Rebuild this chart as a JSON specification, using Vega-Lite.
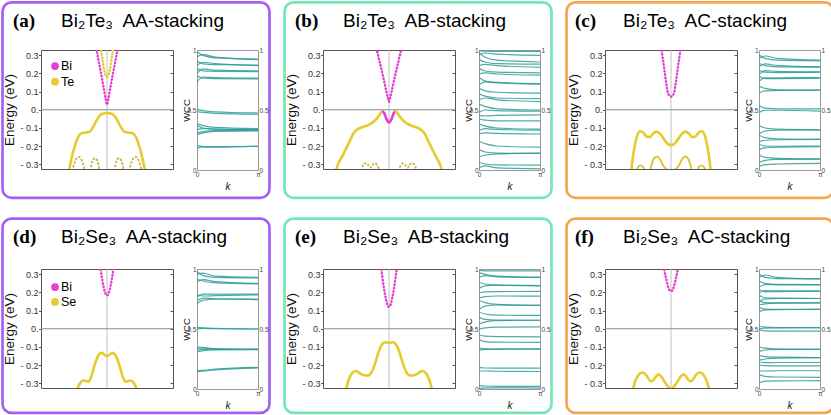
{
"$schema": "https://vega.github.io/schema/vega-lite/v6.json",
"padding": 0,
"background": "white",
"config": {"font": "Liberation Sans", "axis": {"labelFont": "Liberation Sans", "titleFont": "Liberation Sans", "titleFontWeight": "normal", "domain": false, "grid": false, "labelOverlap": false, "tickColor": "#555"}},
"datasets": {
"panels": [
{"p":"a","lab":"(a)","name":"Bi₂Te₃\u00a0 AA-stacking","stack":"AA"},
{"p":"b","lab":"(b)","name":"Bi₂Te₃\u00a0 AB-stacking","stack":"AB"},
{"p":"c","lab":"(c)","name":"Bi₂Te₃\u00a0 AC-stacking","stack":"AC"},
{"p":"d","lab":"(d)","name":"Bi₂Se₃\u00a0 AA-stacking","stack":"AA"},
{"p":"e","lab":"(e)","name":"Bi₂Se₃\u00a0 AB-stacking","stack":"AB"},
{"p":"f","lab":"(f)","name":"Bi₂Se₃\u00a0 AC-stacking","stack":"AC"}],
"leg": [{"p":"a","el":"Bi"},{"p":"a","el":"Te"},{"p":"d","el":"Bi"},{"p":"d","el":"Se"}],
"kgrid": [{"key":"w0","k":0},{"key":"w1","k":0.1},{"key":"w2","k":0.3},{"key":"w3","k":1}],
"band": [
{"p":"a","b":1,"el":"Bi","t":"c","u":0.83,"E":0.35},{"p":"a","b":1,"el":"Bi","t":"c","u":0.87,"E":0.274},{"p":"a","b":1,"el":"Bi","t":"c","u":0.91,"E":0.198},{"p":"a","b":1,"el":"Bi","t":"c","u":0.95,"E":0.12},{"p":"a","b":1,"el":"Bi","t":"c","u":0.98,"E":0.058},{"p":"a","b":1,"el":"Bi","t":"c","u":1.0,"E":0.028},{"p":"a","b":1,"el":"Bi","t":"c","u":1.02,"E":0.058},{"p":"a","b":1,"el":"Bi","t":"c","u":1.05,"E":0.12},{"p":"a","b":1,"el":"Bi","t":"c","u":1.09,"E":0.198},{"p":"a","b":1,"el":"Bi","t":"c","u":1.13,"E":0.274},{"p":"a","b":1,"el":"Bi","t":"c","u":1.17,"E":0.35},
{"p":"a","b":2,"el":"Te","t":"c","u":0.895,"E":0.36},{"p":"a","b":2,"el":"Te","t":"c","u":0.93,"E":0.28},{"p":"a","b":2,"el":"Te","t":"c","u":0.96,"E":0.215},{"p":"a","b":2,"el":"Te","t":"c","u":0.98,"E":0.188},{"p":"a","b":2,"el":"Te","t":"c","u":1.0,"E":0.18},{"p":"a","b":2,"el":"Te","t":"c","u":1.02,"E":0.188},{"p":"a","b":2,"el":"Te","t":"c","u":1.04,"E":0.215},{"p":"a","b":2,"el":"Te","t":"c","u":1.07,"E":0.28},{"p":"a","b":2,"el":"Te","t":"c","u":1.105,"E":0.36},
{"p":"a","b":3,"el":"Te","t":"v","u":0.40,"E":-0.40},{"p":"a","b":3,"el":"Te","t":"v","u":0.43,"E":-0.325},{"p":"a","b":3,"el":"Te","t":"v","u":0.47,"E":-0.255},{"p":"a","b":3,"el":"Te","t":"v","u":0.52,"E":-0.19},{"p":"a","b":3,"el":"Te","t":"v","u":0.57,"E":-0.145},{"p":"a","b":3,"el":"Te","t":"v","u":0.62,"E":-0.128},{"p":"a","b":3,"el":"Te","t":"v","u":0.68,"E":-0.125},{"p":"a","b":3,"el":"Te","t":"v","u":0.74,"E":-0.12},{"p":"a","b":3,"el":"Te","t":"v","u":0.79,"E":-0.095},{"p":"a","b":3,"el":"Te","t":"v","u":0.84,"E":-0.06},{"p":"a","b":3,"el":"Te","t":"v","u":0.89,"E":-0.032},{"p":"a","b":3,"el":"Te","t":"v","u":0.94,"E":-0.02},{"p":"a","b":3,"el":"Te","t":"v","u":1.0,"E":-0.018},{"p":"a","b":3,"el":"Te","t":"v","u":1.06,"E":-0.02},{"p":"a","b":3,"el":"Te","t":"v","u":1.11,"E":-0.032},{"p":"a","b":3,"el":"Te","t":"v","u":1.16,"E":-0.06},{"p":"a","b":3,"el":"Te","t":"v","u":1.21,"E":-0.095},{"p":"a","b":3,"el":"Te","t":"v","u":1.26,"E":-0.12},{"p":"a","b":3,"el":"Te","t":"v","u":1.32,"E":-0.125},{"p":"a","b":3,"el":"Te","t":"v","u":1.38,"E":-0.128},{"p":"a","b":3,"el":"Te","t":"v","u":1.43,"E":-0.145},{"p":"a","b":3,"el":"Te","t":"v","u":1.48,"E":-0.19},{"p":"a","b":3,"el":"Te","t":"v","u":1.53,"E":-0.255},{"p":"a","b":3,"el":"Te","t":"v","u":1.57,"E":-0.325},{"p":"a","b":3,"el":"Te","t":"v","u":1.60,"E":-0.40},
{"p":"a","b":4,"el":"Te","t":"l","u":0.46,"E":-0.36},{"p":"a","b":4,"el":"Te","t":"l","u":0.50,"E":-0.30},{"p":"a","b":4,"el":"Te","t":"l","u":0.54,"E":-0.265},{"p":"a","b":4,"el":"Te","t":"l","u":0.57,"E":-0.258},{"p":"a","b":4,"el":"Te","t":"l","u":0.60,"E":-0.265},{"p":"a","b":4,"el":"Te","t":"l","u":0.64,"E":-0.30},{"p":"a","b":4,"el":"Te","t":"l","u":0.68,"E":-0.36},
{"p":"a","b":5,"el":"Te","t":"l","u":0.74,"E":-0.36},{"p":"a","b":5,"el":"Te","t":"l","u":0.765,"E":-0.30},{"p":"a","b":5,"el":"Te","t":"l","u":0.795,"E":-0.272},{"p":"a","b":5,"el":"Te","t":"l","u":0.82,"E":-0.266},{"p":"a","b":5,"el":"Te","t":"l","u":0.845,"E":-0.272},{"p":"a","b":5,"el":"Te","t":"l","u":0.87,"E":-0.30},{"p":"a","b":5,"el":"Te","t":"l","u":0.89,"E":-0.36},
{"p":"a","b":6,"el":"Te","t":"l","u":1.11,"E":-0.36},{"p":"a","b":6,"el":"Te","t":"l","u":1.13,"E":-0.30},{"p":"a","b":6,"el":"Te","t":"l","u":1.155,"E":-0.272},{"p":"a","b":6,"el":"Te","t":"l","u":1.18,"E":-0.266},{"p":"a","b":6,"el":"Te","t":"l","u":1.205,"E":-0.272},{"p":"a","b":6,"el":"Te","t":"l","u":1.235,"E":-0.30},{"p":"a","b":6,"el":"Te","t":"l","u":1.26,"E":-0.36},
{"p":"a","b":7,"el":"Te","t":"l","u":1.32,"E":-0.36},{"p":"a","b":7,"el":"Te","t":"l","u":1.36,"E":-0.30},{"p":"a","b":7,"el":"Te","t":"l","u":1.40,"E":-0.265},{"p":"a","b":7,"el":"Te","t":"l","u":1.43,"E":-0.258},{"p":"a","b":7,"el":"Te","t":"l","u":1.46,"E":-0.265},{"p":"a","b":7,"el":"Te","t":"l","u":1.50,"E":-0.30},{"p":"a","b":7,"el":"Te","t":"l","u":1.54,"E":-0.36},

{"p":"b","b":1,"el":"Bi","t":"c","u":0.80,"E":0.353},{"p":"b","b":1,"el":"Bi","t":"c","u":0.84,"E":0.291},{"p":"b","b":1,"el":"Bi","t":"c","u":0.88,"E":0.23},{"p":"b","b":1,"el":"Bi","t":"c","u":0.92,"E":0.168},{"p":"b","b":1,"el":"Bi","t":"c","u":0.96,"E":0.10},{"p":"b","b":1,"el":"Bi","t":"c","u":0.985,"E":0.062},{"p":"b","b":1,"el":"Bi","t":"c","u":1.0,"E":0.045},{"p":"b","b":1,"el":"Bi","t":"c","u":1.015,"E":0.062},{"p":"b","b":1,"el":"Bi","t":"c","u":1.04,"E":0.10},{"p":"b","b":1,"el":"Bi","t":"c","u":1.08,"E":0.168},{"p":"b","b":1,"el":"Bi","t":"c","u":1.12,"E":0.23},{"p":"b","b":1,"el":"Bi","t":"c","u":1.16,"E":0.291},{"p":"b","b":1,"el":"Bi","t":"c","u":1.20,"E":0.353},
{"p":"b","b":2,"el":"Te","t":"v","u":0.18,"E":-0.38},{"p":"b","b":2,"el":"Te","t":"v","u":0.2,"E":-0.33},{"p":"b","b":2,"el":"Te","t":"v","u":0.3,"E":-0.25},{"p":"b","b":2,"el":"Te","t":"v","u":0.4,"E":-0.176},{"p":"b","b":2,"el":"Te","t":"v","u":0.46,"E":-0.13},{"p":"b","b":2,"el":"Te","t":"v","u":0.53,"E":-0.106},{"p":"b","b":2,"el":"Te","t":"v","u":0.6,"E":-0.095},{"p":"b","b":2,"el":"Te","t":"v","u":0.68,"E":-0.085},{"p":"b","b":2,"el":"Te","t":"v","u":0.75,"E":-0.07},{"p":"b","b":2,"el":"Te","t":"v","u":0.81,"E":-0.05},{"p":"b","b":2,"el":"Te","t":"v","u":0.86,"E":-0.025},{"p":"b","b":2,"el":"Te","t":"v","u":0.9,"E":-0.006},
{"p":"b","b":3,"el":"Bi","t":"v","u":0.9,"E":-0.006},{"p":"b","b":3,"el":"Bi","t":"v","u":0.93,"E":-0.02},{"p":"b","b":3,"el":"Bi","t":"v","u":0.96,"E":-0.05},{"p":"b","b":3,"el":"Bi","t":"v","u":1.0,"E":-0.069},{"p":"b","b":3,"el":"Bi","t":"v","u":1.04,"E":-0.05},{"p":"b","b":3,"el":"Bi","t":"v","u":1.07,"E":-0.02},{"p":"b","b":3,"el":"Bi","t":"v","u":1.1,"E":-0.006},
{"p":"b","b":4,"el":"Te","t":"v","u":1.1,"E":-0.006},{"p":"b","b":4,"el":"Te","t":"v","u":1.14,"E":-0.025},{"p":"b","b":4,"el":"Te","t":"v","u":1.19,"E":-0.05},{"p":"b","b":4,"el":"Te","t":"v","u":1.25,"E":-0.07},{"p":"b","b":4,"el":"Te","t":"v","u":1.32,"E":-0.085},{"p":"b","b":4,"el":"Te","t":"v","u":1.4,"E":-0.095},{"p":"b","b":4,"el":"Te","t":"v","u":1.47,"E":-0.106},{"p":"b","b":4,"el":"Te","t":"v","u":1.54,"E":-0.13},{"p":"b","b":4,"el":"Te","t":"v","u":1.6,"E":-0.176},{"p":"b","b":4,"el":"Te","t":"v","u":1.7,"E":-0.25},{"p":"b","b":4,"el":"Te","t":"v","u":1.8,"E":-0.33},{"p":"b","b":4,"el":"Te","t":"v","u":1.82,"E":-0.38},
{"p":"b","b":5,"el":"Te","t":"l","u":0.57,"E":-0.36},{"p":"b","b":5,"el":"Te","t":"l","u":0.60,"E":-0.31},{"p":"b","b":5,"el":"Te","t":"l","u":0.63,"E":-0.295},{"p":"b","b":5,"el":"Te","t":"l","u":0.66,"E":-0.293},{"p":"b","b":5,"el":"Te","t":"l","u":0.69,"E":-0.305},{"p":"b","b":5,"el":"Te","t":"l","u":0.72,"E":-0.318},{"p":"b","b":5,"el":"Te","t":"l","u":0.75,"E":-0.303},{"p":"b","b":5,"el":"Te","t":"l","u":0.78,"E":-0.293},{"p":"b","b":5,"el":"Te","t":"l","u":0.81,"E":-0.298},{"p":"b","b":5,"el":"Te","t":"l","u":0.84,"E":-0.32},{"p":"b","b":5,"el":"Te","t":"l","u":0.87,"E":-0.36},
{"p":"b","b":6,"el":"Te","t":"l","u":1.13,"E":-0.36},{"p":"b","b":6,"el":"Te","t":"l","u":1.16,"E":-0.32},{"p":"b","b":6,"el":"Te","t":"l","u":1.19,"E":-0.298},{"p":"b","b":6,"el":"Te","t":"l","u":1.22,"E":-0.293},{"p":"b","b":6,"el":"Te","t":"l","u":1.25,"E":-0.303},{"p":"b","b":6,"el":"Te","t":"l","u":1.28,"E":-0.318},{"p":"b","b":6,"el":"Te","t":"l","u":1.31,"E":-0.305},{"p":"b","b":6,"el":"Te","t":"l","u":1.34,"E":-0.293},{"p":"b","b":6,"el":"Te","t":"l","u":1.37,"E":-0.295},{"p":"b","b":6,"el":"Te","t":"l","u":1.40,"E":-0.31},{"p":"b","b":6,"el":"Te","t":"l","u":1.43,"E":-0.36},

{"p":"c","b":1,"el":"Bi","t":"c","u":0.85,"E":0.36},{"p":"c","b":1,"el":"Bi","t":"c","u":0.86,"E":0.325},{"p":"c","b":1,"el":"Bi","t":"c","u":0.896,"E":0.23},{"p":"c","b":1,"el":"Bi","t":"c","u":0.927,"E":0.148},{"p":"c","b":1,"el":"Bi","t":"c","u":0.952,"E":0.095},{"p":"c","b":1,"el":"Bi","t":"c","u":0.975,"E":0.077},{"p":"c","b":1,"el":"Bi","t":"c","u":1.0,"E":0.072},{"p":"c","b":1,"el":"Bi","t":"c","u":1.025,"E":0.077},{"p":"c","b":1,"el":"Bi","t":"c","u":1.048,"E":0.095},{"p":"c","b":1,"el":"Bi","t":"c","u":1.073,"E":0.148},{"p":"c","b":1,"el":"Bi","t":"c","u":1.104,"E":0.23},{"p":"c","b":1,"el":"Bi","t":"c","u":1.14,"E":0.325},{"p":"c","b":1,"el":"Bi","t":"c","u":1.15,"E":0.36},
{"p":"c","b":2,"el":"Te","t":"v","u":0.385,"E":-0.40},{"p":"c","b":2,"el":"Te","t":"v","u":0.40,"E":-0.33},{"p":"c","b":2,"el":"Te","t":"v","u":0.44,"E":-0.22},{"p":"c","b":2,"el":"Te","t":"v","u":0.48,"E":-0.15},{"p":"c","b":2,"el":"Te","t":"v","u":0.53,"E":-0.118},{"p":"c","b":2,"el":"Te","t":"v","u":0.58,"E":-0.125},{"p":"c","b":2,"el":"Te","t":"v","u":0.63,"E":-0.147},{"p":"c","b":2,"el":"Te","t":"v","u":0.68,"E":-0.15},{"p":"c","b":2,"el":"Te","t":"v","u":0.73,"E":-0.13},{"p":"c","b":2,"el":"Te","t":"v","u":0.785,"E":-0.12},{"p":"c","b":2,"el":"Te","t":"v","u":0.84,"E":-0.135},{"p":"c","b":2,"el":"Te","t":"v","u":0.9,"E":-0.165},{"p":"c","b":2,"el":"Te","t":"v","u":0.95,"E":-0.187},{"p":"c","b":2,"el":"Te","t":"v","u":1.0,"E":-0.194},{"p":"c","b":2,"el":"Te","t":"v","u":1.05,"E":-0.187},{"p":"c","b":2,"el":"Te","t":"v","u":1.1,"E":-0.165},{"p":"c","b":2,"el":"Te","t":"v","u":1.16,"E":-0.135},{"p":"c","b":2,"el":"Te","t":"v","u":1.215,"E":-0.12},{"p":"c","b":2,"el":"Te","t":"v","u":1.27,"E":-0.13},{"p":"c","b":2,"el":"Te","t":"v","u":1.32,"E":-0.15},{"p":"c","b":2,"el":"Te","t":"v","u":1.37,"E":-0.147},{"p":"c","b":2,"el":"Te","t":"v","u":1.42,"E":-0.125},{"p":"c","b":2,"el":"Te","t":"v","u":1.47,"E":-0.118},{"p":"c","b":2,"el":"Te","t":"v","u":1.52,"E":-0.15},{"p":"c","b":2,"el":"Te","t":"v","u":1.56,"E":-0.22},{"p":"c","b":2,"el":"Te","t":"v","u":1.60,"E":-0.33},{"p":"c","b":2,"el":"Te","t":"v","u":1.615,"E":-0.40},
{"p":"c","b":3,"el":"Te","t":"m","u":0.66,"E":-0.38},{"p":"c","b":3,"el":"Te","t":"m","u":0.70,"E":-0.31},{"p":"c","b":3,"el":"Te","t":"m","u":0.74,"E":-0.268},{"p":"c","b":3,"el":"Te","t":"m","u":0.785,"E":-0.256},{"p":"c","b":3,"el":"Te","t":"m","u":0.83,"E":-0.27},{"p":"c","b":3,"el":"Te","t":"m","u":0.88,"E":-0.305},{"p":"c","b":3,"el":"Te","t":"m","u":0.94,"E":-0.33},{"p":"c","b":3,"el":"Te","t":"m","u":1.0,"E":-0.34},{"p":"c","b":3,"el":"Te","t":"m","u":1.06,"E":-0.33},{"p":"c","b":3,"el":"Te","t":"m","u":1.12,"E":-0.305},{"p":"c","b":3,"el":"Te","t":"m","u":1.17,"E":-0.27},{"p":"c","b":3,"el":"Te","t":"m","u":1.215,"E":-0.256},{"p":"c","b":3,"el":"Te","t":"m","u":1.26,"E":-0.268},{"p":"c","b":3,"el":"Te","t":"m","u":1.30,"E":-0.31},{"p":"c","b":3,"el":"Te","t":"m","u":1.34,"E":-0.38},
{"p":"c","b":4,"el":"Te","t":"m","u":0.46,"E":-0.36},{"p":"c","b":4,"el":"Te","t":"m","u":0.50,"E":-0.315},{"p":"c","b":4,"el":"Te","t":"m","u":0.54,"E":-0.305},{"p":"c","b":4,"el":"Te","t":"m","u":0.58,"E":-0.315},{"p":"c","b":4,"el":"Te","t":"m","u":0.62,"E":-0.36},
{"p":"c","b":5,"el":"Te","t":"m","u":1.38,"E":-0.36},{"p":"c","b":5,"el":"Te","t":"m","u":1.42,"E":-0.315},{"p":"c","b":5,"el":"Te","t":"m","u":1.46,"E":-0.305},{"p":"c","b":5,"el":"Te","t":"m","u":1.50,"E":-0.315},{"p":"c","b":5,"el":"Te","t":"m","u":1.54,"E":-0.36},

{"p":"d","b":1,"el":"Bi","t":"c","u":0.895,"E":0.36},{"p":"d","b":1,"el":"Bi","t":"c","u":0.905,"E":0.325},{"p":"d","b":1,"el":"Bi","t":"c","u":0.93,"E":0.265},{"p":"d","b":1,"el":"Bi","t":"c","u":0.95,"E":0.228},{"p":"d","b":1,"el":"Bi","t":"c","u":0.975,"E":0.195},{"p":"d","b":1,"el":"Bi","t":"c","u":1.0,"E":0.183},{"p":"d","b":1,"el":"Bi","t":"c","u":1.025,"E":0.195},{"p":"d","b":1,"el":"Bi","t":"c","u":1.05,"E":0.228},{"p":"d","b":1,"el":"Bi","t":"c","u":1.07,"E":0.265},{"p":"d","b":1,"el":"Bi","t":"c","u":1.095,"E":0.325},{"p":"d","b":1,"el":"Bi","t":"c","u":1.105,"E":0.36},
{"p":"d","b":2,"el":"Se","t":"v","u":0.54,"E":-0.38},{"p":"d","b":2,"el":"Se","t":"v","u":0.56,"E":-0.325},{"p":"d","b":2,"el":"Se","t":"v","u":0.60,"E":-0.295},{"p":"d","b":2,"el":"Se","t":"v","u":0.64,"E":-0.284},{"p":"d","b":2,"el":"Se","t":"v","u":0.68,"E":-0.287},{"p":"d","b":2,"el":"Se","t":"v","u":0.72,"E":-0.29},{"p":"d","b":2,"el":"Se","t":"v","u":0.76,"E":-0.265},{"p":"d","b":2,"el":"Se","t":"v","u":0.80,"E":-0.215},{"p":"d","b":2,"el":"Se","t":"v","u":0.84,"E":-0.17},{"p":"d","b":2,"el":"Se","t":"v","u":0.88,"E":-0.14},{"p":"d","b":2,"el":"Se","t":"v","u":0.92,"E":-0.132},{"p":"d","b":2,"el":"Se","t":"v","u":0.96,"E":-0.142},{"p":"d","b":2,"el":"Se","t":"v","u":1.0,"E":-0.149},{"p":"d","b":2,"el":"Se","t":"v","u":1.04,"E":-0.142},{"p":"d","b":2,"el":"Se","t":"v","u":1.08,"E":-0.132},{"p":"d","b":2,"el":"Se","t":"v","u":1.12,"E":-0.14},{"p":"d","b":2,"el":"Se","t":"v","u":1.16,"E":-0.17},{"p":"d","b":2,"el":"Se","t":"v","u":1.20,"E":-0.215},{"p":"d","b":2,"el":"Se","t":"v","u":1.24,"E":-0.265},{"p":"d","b":2,"el":"Se","t":"v","u":1.28,"E":-0.29},{"p":"d","b":2,"el":"Se","t":"v","u":1.32,"E":-0.287},{"p":"d","b":2,"el":"Se","t":"v","u":1.36,"E":-0.284},{"p":"d","b":2,"el":"Se","t":"v","u":1.40,"E":-0.295},{"p":"d","b":2,"el":"Se","t":"v","u":1.44,"E":-0.325},{"p":"d","b":2,"el":"Se","t":"v","u":1.46,"E":-0.38},

{"p":"e","b":1,"el":"Bi","t":"c","u":0.87,"E":0.36},{"p":"e","b":1,"el":"Bi","t":"c","u":0.884,"E":0.325},{"p":"e","b":1,"el":"Bi","t":"c","u":0.92,"E":0.23},{"p":"e","b":1,"el":"Bi","t":"c","u":0.95,"E":0.17},{"p":"e","b":1,"el":"Bi","t":"c","u":0.975,"E":0.133},{"p":"e","b":1,"el":"Bi","t":"c","u":1.0,"E":0.12},{"p":"e","b":1,"el":"Bi","t":"c","u":1.025,"E":0.133},{"p":"e","b":1,"el":"Bi","t":"c","u":1.05,"E":0.17},{"p":"e","b":1,"el":"Bi","t":"c","u":1.08,"E":0.23},{"p":"e","b":1,"el":"Bi","t":"c","u":1.116,"E":0.325},{"p":"e","b":1,"el":"Bi","t":"c","u":1.13,"E":0.36},
{"p":"e","b":2,"el":"Se","t":"v","u":0.33,"E":-0.38},{"p":"e","b":2,"el":"Se","t":"v","u":0.355,"E":-0.325},{"p":"e","b":2,"el":"Se","t":"v","u":0.40,"E":-0.27},{"p":"e","b":2,"el":"Se","t":"v","u":0.45,"E":-0.24},{"p":"e","b":2,"el":"Se","t":"v","u":0.50,"E":-0.232},{"p":"e","b":2,"el":"Se","t":"v","u":0.56,"E":-0.245},{"p":"e","b":2,"el":"Se","t":"v","u":0.62,"E":-0.255},{"p":"e","b":2,"el":"Se","t":"v","u":0.68,"E":-0.256},{"p":"e","b":2,"el":"Se","t":"v","u":0.74,"E":-0.236},{"p":"e","b":2,"el":"Se","t":"v","u":0.79,"E":-0.19},{"p":"e","b":2,"el":"Se","t":"v","u":0.84,"E":-0.13},{"p":"e","b":2,"el":"Se","t":"v","u":0.89,"E":-0.088},{"p":"e","b":2,"el":"Se","t":"v","u":0.94,"E":-0.074},{"p":"e","b":2,"el":"Se","t":"v","u":1.0,"E":-0.078},{"p":"e","b":2,"el":"Se","t":"v","u":1.06,"E":-0.074},{"p":"e","b":2,"el":"Se","t":"v","u":1.11,"E":-0.088},{"p":"e","b":2,"el":"Se","t":"v","u":1.16,"E":-0.13},{"p":"e","b":2,"el":"Se","t":"v","u":1.21,"E":-0.19},{"p":"e","b":2,"el":"Se","t":"v","u":1.26,"E":-0.236},{"p":"e","b":2,"el":"Se","t":"v","u":1.32,"E":-0.256},{"p":"e","b":2,"el":"Se","t":"v","u":1.38,"E":-0.255},{"p":"e","b":2,"el":"Se","t":"v","u":1.44,"E":-0.245},{"p":"e","b":2,"el":"Se","t":"v","u":1.50,"E":-0.232},{"p":"e","b":2,"el":"Se","t":"v","u":1.55,"E":-0.24},{"p":"e","b":2,"el":"Se","t":"v","u":1.60,"E":-0.27},{"p":"e","b":2,"el":"Se","t":"v","u":1.645,"E":-0.325},{"p":"e","b":2,"el":"Se","t":"v","u":1.67,"E":-0.38},

{"p":"f","b":1,"el":"Bi","t":"c","u":0.885,"E":0.36},{"p":"f","b":1,"el":"Bi","t":"c","u":0.898,"E":0.325},{"p":"f","b":1,"el":"Bi","t":"c","u":0.93,"E":0.27},{"p":"f","b":1,"el":"Bi","t":"c","u":0.96,"E":0.226},{"p":"f","b":1,"el":"Bi","t":"c","u":0.98,"E":0.21},{"p":"f","b":1,"el":"Bi","t":"c","u":1.0,"E":0.207},{"p":"f","b":1,"el":"Bi","t":"c","u":1.02,"E":0.21},{"p":"f","b":1,"el":"Bi","t":"c","u":1.04,"E":0.226},{"p":"f","b":1,"el":"Bi","t":"c","u":1.07,"E":0.27},{"p":"f","b":1,"el":"Bi","t":"c","u":1.102,"E":0.325},{"p":"f","b":1,"el":"Bi","t":"c","u":1.115,"E":0.36},
{"p":"f","b":2,"el":"Se","t":"v","u":0.41,"E":-0.38},{"p":"f","b":2,"el":"Se","t":"v","u":0.43,"E":-0.325},{"p":"f","b":2,"el":"Se","t":"v","u":0.48,"E":-0.27},{"p":"f","b":2,"el":"Se","t":"v","u":0.53,"E":-0.245},{"p":"f","b":2,"el":"Se","t":"v","u":0.575,"E":-0.24},{"p":"f","b":2,"el":"Se","t":"v","u":0.62,"E":-0.252},{"p":"f","b":2,"el":"Se","t":"v","u":0.67,"E":-0.28},{"p":"f","b":2,"el":"Se","t":"v","u":0.71,"E":-0.288},{"p":"f","b":2,"el":"Se","t":"v","u":0.76,"E":-0.268},{"p":"f","b":2,"el":"Se","t":"v","u":0.81,"E":-0.25},{"p":"f","b":2,"el":"Se","t":"v","u":0.86,"E":-0.265},{"p":"f","b":2,"el":"Se","t":"v","u":0.92,"E":-0.30},{"p":"f","b":2,"el":"Se","t":"v","u":0.96,"E":-0.318},{"p":"f","b":2,"el":"Se","t":"v","u":1.0,"E":-0.335},{"p":"f","b":2,"el":"Se","t":"v","u":1.04,"E":-0.318},{"p":"f","b":2,"el":"Se","t":"v","u":1.08,"E":-0.30},{"p":"f","b":2,"el":"Se","t":"v","u":1.14,"E":-0.265},{"p":"f","b":2,"el":"Se","t":"v","u":1.19,"E":-0.25},{"p":"f","b":2,"el":"Se","t":"v","u":1.24,"E":-0.268},{"p":"f","b":2,"el":"Se","t":"v","u":1.29,"E":-0.288},{"p":"f","b":2,"el":"Se","t":"v","u":1.33,"E":-0.28},{"p":"f","b":2,"el":"Se","t":"v","u":1.38,"E":-0.252},{"p":"f","b":2,"el":"Se","t":"v","u":1.425,"E":-0.24},{"p":"f","b":2,"el":"Se","t":"v","u":1.47,"E":-0.245},{"p":"f","b":2,"el":"Se","t":"v","u":1.52,"E":-0.27},{"p":"f","b":2,"el":"Se","t":"v","u":1.57,"E":-0.325},{"p":"f","b":2,"el":"Se","t":"v","u":1.59,"E":-0.38}
],
"wcc": [
{"p":"a","l":1,"w0":0.985,"w1":0.955,"w2":0.935,"w3":0.925},
{"p":"a","l":2,"w0":0.945,"w1":0.962,"w2":0.94,"w3":0.92},
{"p":"a","l":3,"w0":0.905,"w1":0.885,"w2":0.878,"w3":0.875},
{"p":"a","l":4,"w0":0.872,"w1":0.898,"w2":0.886,"w3":0.87},
{"p":"a","l":5,"w0":0.845,"w1":0.826,"w2":0.822,"w3":0.82},
{"p":"a","l":6,"w0":0.805,"w1":0.842,"w2":0.832,"w3":0.826},
{"p":"a","l":7,"w0":0.785,"w1":0.765,"w2":0.762,"w3":0.76},
{"p":"a","l":8,"w0":0.735,"w1":0.775,"w2":0.77,"w3":0.766},
{"p":"a","l":9,"w0":0.505,"w1":0.495,"w2":0.485,"w3":0.475},
{"p":"a","l":10,"w0":0.487,"w1":0.48,"w2":0.472,"w3":0.465},
{"p":"a","l":11,"w0":0.385,"w1":0.37,"w2":0.355,"w3":0.345},
{"p":"a","l":12,"w0":0.37,"w1":0.35,"w2":0.34,"w3":0.336},
{"p":"a","l":13,"w0":0.338,"w1":0.345,"w2":0.34,"w3":0.335},
{"p":"a","l":14,"w0":0.31,"w1":0.32,"w2":0.328,"w3":0.33},
{"p":"a","l":15,"w0":0.295,"w1":0.31,"w2":0.322,"w3":0.325},
{"p":"a","l":16,"w0":0.205,"w1":0.195,"w2":0.19,"w3":0.2},
{"p":"a","l":17,"w0":0.185,"w1":0.192,"w2":0.195,"w3":0.196},
{"p":"b","l":1,"w0":0.995,"w1":0.99,"w2":0.988,"w3":0.988},
{"p":"b","l":2,"w0":0.96,"w1":0.975,"w2":0.965,"w3":0.955},
{"p":"b","l":3,"w0":0.975,"w1":0.94,"w2":0.915,"w3":0.9},
{"p":"b","l":4,"w0":0.92,"w1":0.9,"w2":0.886,"w3":0.882},
{"p":"b","l":5,"w0":0.87,"w1":0.88,"w2":0.87,"w3":0.856},
{"p":"b","l":6,"w0":0.845,"w1":0.825,"w2":0.815,"w3":0.81},
{"p":"b","l":7,"w0":0.8,"w1":0.81,"w2":0.8,"w3":0.79},
{"p":"b","l":8,"w0":0.77,"w1":0.74,"w2":0.725,"w3":0.715},
{"p":"b","l":9,"w0":0.71,"w1":0.735,"w2":0.73,"w3":0.72},
{"p":"b","l":10,"w0":0.68,"w1":0.66,"w2":0.648,"w3":0.64},
{"p":"b","l":11,"w0":0.635,"w1":0.615,"w2":0.6,"w3":0.595},
{"p":"b","l":12,"w0":0.585,"w1":0.6,"w2":0.585,"w3":0.57},
{"p":"b","l":13,"w0":0.55,"w1":0.53,"w2":0.51,"w3":0.5},
{"p":"b","l":14,"w0":0.48,"w1":0.5,"w2":0.495,"w3":0.49},
{"p":"b","l":15,"w0":0.455,"w1":0.45,"w2":0.455,"w3":0.46},
{"p":"b","l":16,"w0":0.425,"w1":0.415,"w2":0.41,"w3":0.41},
{"p":"b","l":17,"w0":0.385,"w1":0.365,"w2":0.35,"w3":0.34},
{"p":"b","l":18,"w0":0.33,"w1":0.345,"w2":0.338,"w3":0.332},
{"p":"b","l":19,"w0":0.3,"w1":0.31,"w2":0.305,"w3":0.3},
{"p":"b","l":20,"w0":0.24,"w1":0.22,"w2":0.2,"w3":0.19},
{"p":"b","l":21,"w0":0.17,"w1":0.15,"w2":0.14,"w3":0.138},
{"p":"b","l":22,"w0":0.11,"w1":0.125,"w2":0.135,"w3":0.14},
{"p":"b","l":23,"w0":0.065,"w1":0.05,"w2":0.042,"w3":0.04},
{"p":"b","l":24,"w0":0.02,"w1":0.035,"w2":0.018,"w3":0.01},
{"p":"c","l":1,"w0":0.96,"w1":0.93,"w2":0.915,"w3":0.91},
{"p":"c","l":2,"w0":0.93,"w1":0.95,"w2":0.93,"w3":0.915},
{"p":"c","l":3,"w0":0.89,"w1":0.87,"w2":0.86,"w3":0.858},
{"p":"c","l":4,"w0":0.86,"w1":0.885,"w2":0.87,"w3":0.86},
{"p":"c","l":5,"w0":0.83,"w1":0.815,"w2":0.812,"w3":0.815},
{"p":"c","l":6,"w0":0.795,"w1":0.828,"w2":0.822,"w3":0.818},
{"p":"c","l":7,"w0":0.78,"w1":0.762,"w2":0.762,"w3":0.765},
{"p":"c","l":8,"w0":0.74,"w1":0.768,"w2":0.768,"w3":0.77},
{"p":"c","l":9,"w0":0.70,"w1":0.68,"w2":0.668,"w3":0.665},
{"p":"c","l":10,"w0":0.64,"w1":0.66,"w2":0.664,"w3":0.665},
{"p":"c","l":11,"w0":0.535,"w1":0.515,"w2":0.51,"w3":0.51},
{"p":"c","l":12,"w0":0.48,"w1":0.498,"w2":0.498,"w3":0.49},
{"p":"c","l":13,"w0":0.37,"w1":0.35,"w2":0.34,"w3":0.335},
{"p":"c","l":14,"w0":0.30,"w1":0.325,"w2":0.332,"w3":0.335},
{"p":"c","l":15,"w0":0.29,"w1":0.27,"w2":0.26,"w3":0.255},
{"p":"c","l":16,"w0":0.235,"w1":0.248,"w2":0.252,"w3":0.255},
{"p":"c","l":17,"w0":0.215,"w1":0.2,"w2":0.198,"w3":0.2},
{"p":"c","l":18,"w0":0.17,"w1":0.185,"w2":0.19,"w3":0.195},
{"p":"c","l":19,"w0":0.125,"w1":0.105,"w2":0.097,"w3":0.092},
{"p":"c","l":20,"w0":0.06,"w1":0.08,"w2":0.088,"w3":0.09},
{"p":"c","l":21,"w0":0.03,"w1":0.045,"w2":0.05,"w3":0.055},
{"p":"d","l":1,"w0":0.98,"w1":0.945,"w2":0.93,"w3":0.925},
{"p":"d","l":2,"w0":0.955,"w1":0.965,"w2":0.94,"w3":0.93},
{"p":"d","l":3,"w0":0.915,"w1":0.9,"w2":0.885,"w3":0.876},
{"p":"d","l":4,"w0":0.895,"w1":0.912,"w2":0.895,"w3":0.88},
{"p":"d","l":5,"w0":0.788,"w1":0.775,"w2":0.778,"w3":0.785},
{"p":"d","l":6,"w0":0.765,"w1":0.79,"w2":0.79,"w3":0.79},
{"p":"d","l":7,"w0":0.735,"w1":0.758,"w2":0.752,"w3":0.75},
{"p":"d","l":8,"w0":0.712,"w1":0.74,"w2":0.748,"w3":0.745},
{"p":"d","l":9,"w0":0.512,"w1":0.51,"w2":0.505,"w3":0.5},
{"p":"d","l":10,"w0":0.5,"w1":0.505,"w2":0.502,"w3":0.5},
{"p":"d","l":11,"w0":0.352,"w1":0.345,"w2":0.335,"w3":0.33},
{"p":"d","l":12,"w0":0.338,"w1":0.342,"w2":0.335,"w3":0.33},
{"p":"d","l":13,"w0":0.322,"w1":0.33,"w2":0.33,"w3":0.33},
{"p":"d","l":14,"w0":0.31,"w1":0.32,"w2":0.325,"w3":0.327},
{"p":"d","l":15,"w0":0.152,"w1":0.155,"w2":0.165,"w3":0.18},
{"p":"d","l":16,"w0":0.145,"w1":0.15,"w2":0.16,"w3":0.175},
{"p":"e","l":1,"w0":0.99,"w1":0.985,"w2":0.985,"w3":0.985},
{"p":"e","l":2,"w0":0.97,"w1":0.955,"w2":0.94,"w3":0.93},
{"p":"e","l":3,"w0":0.93,"w1":0.945,"w2":0.935,"w3":0.93},
{"p":"e","l":4,"w0":0.89,"w1":0.875,"w2":0.865,"w3":0.86},
{"p":"e","l":5,"w0":0.84,"w1":0.86,"w2":0.865,"w3":0.862},
{"p":"e","l":6,"w0":0.8,"w1":0.81,"w2":0.812,"w3":0.813},
{"p":"e","l":7,"w0":0.76,"w1":0.77,"w2":0.775,"w3":0.774},
{"p":"e","l":8,"w0":0.74,"w1":0.72,"w2":0.705,"w3":0.697},
{"p":"e","l":9,"w0":0.66,"w1":0.69,"w2":0.7,"w3":0.697},
{"p":"e","l":10,"w0":0.64,"w1":0.625,"w2":0.615,"w3":0.614},
{"p":"e","l":11,"w0":0.6,"w1":0.58,"w2":0.575,"w3":0.573},
{"p":"e","l":12,"w0":0.54,"w1":0.56,"w2":0.57,"w3":0.573},
{"p":"e","l":13,"w0":0.5,"w1":0.51,"w2":0.515,"w3":0.518},
{"p":"e","l":14,"w0":0.45,"w1":0.44,"w2":0.437,"w3":0.435},
{"p":"e","l":15,"w0":0.41,"w1":0.395,"w2":0.39,"w3":0.388},
{"p":"e","l":16,"w0":0.34,"w1":0.335,"w2":0.333,"w3":0.333},
{"p":"e","l":17,"w0":0.32,"w1":0.33,"w2":0.333,"w3":0.335},
{"p":"e","l":18,"w0":0.18,"w1":0.175,"w2":0.174,"w3":0.174},
{"p":"e","l":19,"w0":0.15,"w1":0.15,"w2":0.148,"w3":0.146},
{"p":"e","l":20,"w0":0.03,"w1":0.025,"w2":0.022,"w3":0.022},
{"p":"e","l":21,"w0":0.005,"w1":0.01,"w2":0.01,"w3":0.008},
{"p":"f","l":1,"w0":0.96,"w1":0.93,"w2":0.92,"w3":0.917},
{"p":"f","l":2,"w0":0.93,"w1":0.95,"w2":0.93,"w3":0.917},
{"p":"f","l":3,"w0":0.9,"w1":0.88,"w2":0.872,"w3":0.87},
{"p":"f","l":4,"w0":0.85,"w1":0.87,"w2":0.868,"w3":0.868},
{"p":"f","l":5,"w0":0.8,"w1":0.82,"w2":0.818,"w3":0.815},
{"p":"f","l":6,"w0":0.83,"w1":0.81,"w2":0.812,"w3":0.815},
{"p":"f","l":7,"w0":0.78,"w1":0.76,"w2":0.756,"w3":0.754},
{"p":"f","l":8,"w0":0.73,"w1":0.75,"w2":0.755,"w3":0.754},
{"p":"f","l":9,"w0":0.70,"w1":0.71,"w2":0.716,"w3":0.718},
{"p":"f","l":10,"w0":0.735,"w1":0.72,"w2":0.718,"w3":0.718},
{"p":"f","l":11,"w0":0.68,"w1":0.665,"w2":0.663,"w3":0.663},
{"p":"f","l":12,"w0":0.64,"w1":0.66,"w2":0.662,"w3":0.663},
{"p":"f","l":13,"w0":0.525,"w1":0.515,"w2":0.512,"w3":0.511},
{"p":"f","l":14,"w0":0.5,"w1":0.508,"w2":0.51,"w3":0.511},
{"p":"f","l":15,"w0":0.49,"w1":0.485,"w2":0.483,"w3":0.483},
{"p":"f","l":16,"w0":0.35,"w1":0.34,"w2":0.333,"w3":0.331},
{"p":"f","l":17,"w0":0.31,"w1":0.325,"w2":0.33,"w3":0.331},
{"p":"f","l":18,"w0":0.28,"w1":0.27,"w2":0.265,"w3":0.262},
{"p":"f","l":19,"w0":0.24,"w1":0.25,"w2":0.258,"w3":0.262},
{"p":"f","l":20,"w0":0.225,"w1":0.22,"w2":0.221,"w3":0.221},
{"p":"f","l":21,"w0":0.2,"w1":0.195,"w2":0.193,"w3":0.193},
{"p":"f","l":22,"w0":0.15,"w1":0.15,"w2":0.152,"w3":0.152},
{"p":"f","l":23,"w0":0.12,"w1":0.105,"w2":0.1,"w3":0.097},
{"p":"f","l":24,"w0":0.05,"w1":0.065,"w2":0.068,"w3":0.069}
]
},
"spacing": 16,
"bounds": "full",
"vconcat": [
{"hconcat": [
{"hconcat": [
{"width": 132, "height": 119, "view": {"stroke": "#555"},
"layer": [
{"data": {"name": "panels"}, "transform": [{"filter": "datum.p == 'a'"}], "mark": {"type": "rect", "filled": false, "strokeWidth": 2.7, "cornerRadius": 9, "clip": false},
 "encoding": {"x": {"datum": -0.583, "type": "quantitative", "scale": {"domain": [0, 2], "nice": false, "zero": false}, "axis": null}, "x2": {"datum": 3.462}, "y": {"datum": 0.5895, "type": "quantitative", "scale": {"domain": [-0.325, 0.328], "nice": false, "zero": false}, "axis": null}, "y2": {"datum": -0.483}, "stroke": {"field": "stack", "type": "nominal", "scale": {"domain": ["AA", "AB", "AC"], "range": ["#a462f4", "#74e8b4", "#f6a54c"]}, "legend": null}}},
{"data": {"name": "panels"}, "transform": [{"filter": "datum.p == 'a'"}], "mark": {"type": "text", "font": "Liberation Serif", "fontWeight": "bold", "fontSize": 19, "align": "left", "baseline": "alphabetic", "color": "#000"}, "encoding": {"x": {"datum": -0.424, "type": "quantitative", "axis": null}, "y": {"datum": 0.454, "type": "quantitative", "axis": null}, "text": {"field": "lab", "type": "nominal"}}},
{"data": {"name": "panels"}, "transform": [{"filter": "datum.p == 'a'"}], "mark": {"type": "text", "fontSize": 19, "align": "left", "baseline": "alphabetic", "color": "#000"}, "encoding": {"x": {"datum": 0.303, "type": "quantitative", "axis": null}, "y": {"datum": 0.454, "type": "quantitative", "axis": null}, "text": {"field": "name", "type": "nominal"}}},
{"data": {"values": [{}]}, "mark": {"type": "rule", "color": "#b0b0b0", "strokeWidth": 0.8}, "encoding": {"x": {"datum": 1, "type": "quantitative", "axis": null}}},
{"data": {"values": [{}]}, "mark": {"type": "rule", "color": "#8a8a8a", "strokeWidth": 1}, "encoding": {"y": {"datum": 0, "type": "quantitative", "axis": {"orient": "right", "values": [-0.3, -0.2, -0.1, 0, 0.1, 0.2, 0.3], "labels": false, "tickSize": -3, "title": null}}}},
{"data": {"name": "band"}, "transform": [{"filter": "datum.p == 'a' && datum.t == 'l'"}], "mark": {"type": "line", "interpolate": "monotone", "clip": true, "strokeWidth": 1.8, "strokeDash": [2.5, 1.5], "color": "#c4b544"}, "encoding": {"x": {"field": "u", "type": "quantitative", "axis": null}, "y": {"field": "E", "type": "quantitative", "axis": null}, "detail": {"field": "b", "type": "nominal"}}},
{"data": {"name": "band"}, "transform": [{"filter": "datum.p == 'a' && datum.t == 'v'"}], "mark": {"type": "line", "interpolate": "monotone", "clip": true, "strokeWidth": 2.6},
 "encoding": {"x": {"field": "u", "type": "quantitative", "axis": {"values": [0, 1, 2], "labelExpr": "datum.value == 1 ? 'Γ' : 'M'", "tickSize": 0, "labelPadding": 3, "labelFontSize": 11.5, "labelColor": "#222", "labelFlush": false, "title": null}},
 "y": {"field": "E", "type": "quantitative", "axis": {"orient": "left", "values": [-0.3, -0.2, -0.1, 0, 0.1, 0.2, 0.3], "labelExpr": "datum.value == 0 ? '0.' : (datum.value < 0 ? '- ' + format(-datum.value, '.1f') : format(datum.value, '.1f'))", "tickSize": 2.5, "labelPadding": 0.5, "labelFontSize": 9, "labelColor": "#333", "title": "Energy (eV)", "titleFontSize": 13.5, "titlePadding": 3, "titleColor": "#111"}},
 "color": {"field": "el", "type": "nominal", "scale": {"domain": ["Bi", "Te", "Se"], "range": ["#e33fd3", "#e5cb2b", "#e5cb2b"]}, "legend": null}, "detail": {"field": "b", "type": "nominal"}}},
{"data": {"name": "band"}, "transform": [{"filter": "datum.p == 'a' && datum.t == 'c'"}], "mark": {"type": "line", "interpolate": "monotone", "clip": true, "strokeWidth": 0.7}, "encoding": {"x": {"field": "u", "type": "quantitative", "axis": null}, "y": {"field": "E", "type": "quantitative", "axis": null}, "color": {"field": "el", "type": "nominal", "legend": null}, "detail": {"field": "b", "type": "nominal"}}},
{"data": {"name": "band"}, "transform": [{"filter": "datum.p == 'a' && datum.t == 'c'"}], "mark": {"type": "line", "interpolate": "monotone", "clip": true, "strokeWidth": 2.6, "strokeDash": [0.01, 3.4], "strokeCap": "round"}, "encoding": {"x": {"field": "u", "type": "quantitative", "axis": null}, "y": {"field": "E", "type": "quantitative", "axis": null}, "color": {"field": "el", "type": "nominal", "legend": null}, "detail": {"field": "b", "type": "nominal"}}},
{"data": {"name": "leg"}, "transform": [{"filter": "datum.p == 'a' && datum.el == 'Bi'"}], "mark": {"type": "point", "filled": true, "size": 60, "opacity": 1}, "encoding": {"x": {"datum": 0.212, "type": "quantitative", "axis": null}, "y": {"datum": 0.240, "type": "quantitative", "axis": null}, "color": {"field": "el", "type": "nominal", "legend": null}}},
{"data": {"name": "leg"}, "transform": [{"filter": "datum.p == 'a' && datum.el != 'Bi'"}], "mark": {"type": "point", "filled": true, "size": 60, "opacity": 1}, "encoding": {"x": {"datum": 0.212, "type": "quantitative", "axis": null}, "y": {"datum": 0.154, "type": "quantitative", "axis": null}, "color": {"field": "el", "type": "nominal", "legend": null}}},
{"data": {"name": "leg"}, "transform": [{"filter": "datum.p == 'a' && datum.el == 'Bi'"}], "mark": {"type": "text", "fontSize": 12.5, "align": "left", "baseline": "middle", "color": "#000"}, "encoding": {"x": {"datum": 0.303, "type": "quantitative", "axis": null}, "y": {"datum": 0.240, "type": "quantitative", "axis": null}, "text": {"field": "el", "type": "nominal"}}},
{"data": {"name": "leg"}, "transform": [{"filter": "datum.p == 'a' && datum.el != 'Bi'"}], "mark": {"type": "text", "fontSize": 12.5, "align": "left", "baseline": "middle", "color": "#000"}, "encoding": {"x": {"datum": 0.303, "type": "quantitative", "axis": null}, "y": {"datum": 0.154, "type": "quantitative", "axis": null}, "text": {"field": "el", "type": "nominal"}}}
],
"resolve": {"axis": {"y": "independent"}}},
{"width": 61, "height": 120, "view": {"stroke": "#999"},
"layer": [
{"data": {"name": "wcc"}, "transform": [{"filter": "datum.p == 'a'"}, {"fold": ["w0", "w1", "w2", "w3"], "as": ["key", "w"]}, {"lookup": "key", "from": {"data": {"name": "kgrid"}, "key": "key", "fields": ["k"]}}],
 "mark": {"type": "line", "interpolate": "monotone", "clip": true, "strokeWidth": 1.2, "color": "#2e9c97", "opacity": 0.85},
 "encoding": {"x": {"field": "k", "type": "quantitative", "scale": {"domain": [0, 1], "nice": false, "zero": false}, "axis": {"values": [0, 1], "labelExpr": "datum.value == 0 ? '0' : 'π'", "tickSize": 0, "labelPadding": 1.5, "labelFontSize": 6.5, "labelColor": "#444", "labelFlush": false, "title": "k", "titleFontStyle": "italic", "titleFontSize": 10, "titlePadding": 3, "titleColor": "#222"}},
 "y": {"field": "w", "type": "quantitative", "scale": {"domain": [0, 1], "nice": false, "zero": false}, "axis": {"orient": "left", "values": [0, 0.5, 1], "labelExpr": "datum.value == 0.5 ? '0.5' : (datum.value == 1 ? '1' : '0')", "tickSize": 0, "labelPadding": 1, "labelFontSize": 6.5, "labelColor": "#444", "title": "WCC", "titleFontSize": 9.5, "titlePadding": -5, "titleColor": "#222"}},
 "detail": {"field": "l", "type": "nominal"}}},
{"data": {"values": [{}]}, "mark": {"type": "rule", "strokeOpacity": 0}, "encoding": {"y": {"datum": 0.5, "type": "quantitative", "axis": {"orient": "right", "values": [0, 0.5, 1], "labelExpr": "datum.value == 0.5 ? '0.5' : (datum.value == 1 ? '1' : '0')", "tickSize": 0, "labelPadding": 1, "labelFontSize": 6.5, "labelColor": "#444", "title": null}}}}
],
"resolve": {"axis": {"y": "independent"}}}
], "spacing": 24, "bounds": "flush"},
{"hconcat": [
{"width": 132, "height": 119, "view": {"stroke": "#555"},
"layer": [
{"data": {"name": "panels"}, "transform": [{"filter": "datum.p == 'b'"}], "mark": {"type": "rect", "filled": false, "strokeWidth": 2.7, "cornerRadius": 9, "clip": false},
 "encoding": {"x": {"datum": -0.583, "type": "quantitative", "scale": {"domain": [0, 2], "nice": false, "zero": false}, "axis": null}, "x2": {"datum": 3.462}, "y": {"datum": 0.5895, "type": "quantitative", "scale": {"domain": [-0.325, 0.328], "nice": false, "zero": false}, "axis": null}, "y2": {"datum": -0.483}, "stroke": {"field": "stack", "type": "nominal", "scale": {"domain": ["AA", "AB", "AC"], "range": ["#a462f4", "#74e8b4", "#f6a54c"]}, "legend": null}}},
{"data": {"name": "panels"}, "transform": [{"filter": "datum.p == 'b'"}], "mark": {"type": "text", "font": "Liberation Serif", "fontWeight": "bold", "fontSize": 19, "align": "left", "baseline": "alphabetic", "color": "#000"}, "encoding": {"x": {"datum": -0.424, "type": "quantitative", "axis": null}, "y": {"datum": 0.454, "type": "quantitative", "axis": null}, "text": {"field": "lab", "type": "nominal"}}},
{"data": {"name": "panels"}, "transform": [{"filter": "datum.p == 'b'"}], "mark": {"type": "text", "fontSize": 19, "align": "left", "baseline": "alphabetic", "color": "#000"}, "encoding": {"x": {"datum": 0.303, "type": "quantitative", "axis": null}, "y": {"datum": 0.454, "type": "quantitative", "axis": null}, "text": {"field": "name", "type": "nominal"}}},
{"data": {"values": [{}]}, "mark": {"type": "rule", "color": "#b0b0b0", "strokeWidth": 0.8}, "encoding": {"x": {"datum": 1, "type": "quantitative", "axis": null}}},
{"data": {"values": [{}]}, "mark": {"type": "rule", "color": "#8a8a8a", "strokeWidth": 1}, "encoding": {"y": {"datum": 0, "type": "quantitative", "axis": {"orient": "right", "values": [-0.3, -0.2, -0.1, 0, 0.1, 0.2, 0.3], "labels": false, "tickSize": -3, "title": null}}}},
{"data": {"name": "band"}, "transform": [{"filter": "datum.p == 'b' && datum.t == 'l'"}], "mark": {"type": "line", "interpolate": "monotone", "clip": true, "strokeWidth": 1.8, "strokeDash": [2.5, 1.5], "color": "#c4b544"}, "encoding": {"x": {"field": "u", "type": "quantitative", "axis": null}, "y": {"field": "E", "type": "quantitative", "axis": null}, "detail": {"field": "b", "type": "nominal"}}},
{"data": {"name": "band"}, "transform": [{"filter": "datum.p == 'b' && datum.t == 'v'"}], "mark": {"type": "line", "interpolate": "monotone", "clip": true, "strokeWidth": 2.6},
 "encoding": {"x": {"field": "u", "type": "quantitative", "axis": {"values": [0, 1, 2], "labelExpr": "datum.value == 1 ? 'Γ' : 'M'", "tickSize": 0, "labelPadding": 3, "labelFontSize": 11.5, "labelColor": "#222", "labelFlush": false, "title": null}},
 "y": {"field": "E", "type": "quantitative", "axis": {"orient": "left", "values": [-0.3, -0.2, -0.1, 0, 0.1, 0.2, 0.3], "labelExpr": "datum.value == 0 ? '0.' : (datum.value < 0 ? '- ' + format(-datum.value, '.1f') : format(datum.value, '.1f'))", "tickSize": 2.5, "labelPadding": 0.5, "labelFontSize": 9, "labelColor": "#333", "title": "Energy (eV)", "titleFontSize": 13.5, "titlePadding": 3, "titleColor": "#111"}},
 "color": {"field": "el", "type": "nominal", "scale": {"domain": ["Bi", "Te", "Se"], "range": ["#e33fd3", "#e5cb2b", "#e5cb2b"]}, "legend": null}, "detail": {"field": "b", "type": "nominal"}}},
{"data": {"name": "band"}, "transform": [{"filter": "datum.p == 'b' && datum.t == 'c'"}], "mark": {"type": "line", "interpolate": "monotone", "clip": true, "strokeWidth": 0.7}, "encoding": {"x": {"field": "u", "type": "quantitative", "axis": null}, "y": {"field": "E", "type": "quantitative", "axis": null}, "color": {"field": "el", "type": "nominal", "legend": null}, "detail": {"field": "b", "type": "nominal"}}},
{"data": {"name": "band"}, "transform": [{"filter": "datum.p == 'b' && datum.t == 'c'"}], "mark": {"type": "line", "interpolate": "monotone", "clip": true, "strokeWidth": 2.6, "strokeDash": [0.01, 3.4], "strokeCap": "round"}, "encoding": {"x": {"field": "u", "type": "quantitative", "axis": null}, "y": {"field": "E", "type": "quantitative", "axis": null}, "color": {"field": "el", "type": "nominal", "legend": null}, "detail": {"field": "b", "type": "nominal"}}}
],
"resolve": {"axis": {"y": "independent"}}},
{"width": 61, "height": 120, "view": {"stroke": "#999"},
"layer": [
{"data": {"name": "wcc"}, "transform": [{"filter": "datum.p == 'b'"}, {"fold": ["w0", "w1", "w2", "w3"], "as": ["key", "w"]}, {"lookup": "key", "from": {"data": {"name": "kgrid"}, "key": "key", "fields": ["k"]}}],
 "mark": {"type": "line", "interpolate": "monotone", "clip": true, "strokeWidth": 1.2, "color": "#2e9c97", "opacity": 0.85},
 "encoding": {"x": {"field": "k", "type": "quantitative", "scale": {"domain": [0, 1], "nice": false, "zero": false}, "axis": {"values": [0, 1], "labelExpr": "datum.value == 0 ? '0' : 'π'", "tickSize": 0, "labelPadding": 1.5, "labelFontSize": 6.5, "labelColor": "#444", "labelFlush": false, "title": "k", "titleFontStyle": "italic", "titleFontSize": 10, "titlePadding": 3, "titleColor": "#222"}},
 "y": {"field": "w", "type": "quantitative", "scale": {"domain": [0, 1], "nice": false, "zero": false}, "axis": {"orient": "left", "values": [0, 0.5, 1], "labelExpr": "datum.value == 0.5 ? '0.5' : (datum.value == 1 ? '1' : '0')", "tickSize": 0, "labelPadding": 1, "labelFontSize": 6.5, "labelColor": "#444", "title": "WCC", "titleFontSize": 9.5, "titlePadding": -5, "titleColor": "#222"}},
 "detail": {"field": "l", "type": "nominal"}}},
{"data": {"values": [{}]}, "mark": {"type": "rule", "strokeOpacity": 0}, "encoding": {"y": {"datum": 0.5, "type": "quantitative", "axis": {"orient": "right", "values": [0, 0.5, 1], "labelExpr": "datum.value == 0.5 ? '0.5' : (datum.value == 1 ? '1' : '0')", "tickSize": 0, "labelPadding": 1, "labelFontSize": 6.5, "labelColor": "#444", "title": null}}}}
],
"resolve": {"axis": {"y": "independent"}}}
], "spacing": 24, "bounds": "flush"},
{"hconcat": [
{"width": 132, "height": 119, "view": {"stroke": "#555"},
"layer": [
{"data": {"name": "panels"}, "transform": [{"filter": "datum.p == 'c'"}], "mark": {"type": "rect", "filled": false, "strokeWidth": 2.7, "cornerRadius": 9, "clip": false},
 "encoding": {"x": {"datum": -0.583, "type": "quantitative", "scale": {"domain": [0, 2], "nice": false, "zero": false}, "axis": null}, "x2": {"datum": 3.462}, "y": {"datum": 0.5895, "type": "quantitative", "scale": {"domain": [-0.325, 0.328], "nice": false, "zero": false}, "axis": null}, "y2": {"datum": -0.483}, "stroke": {"field": "stack", "type": "nominal", "scale": {"domain": ["AA", "AB", "AC"], "range": ["#a462f4", "#74e8b4", "#f6a54c"]}, "legend": null}}},
{"data": {"name": "panels"}, "transform": [{"filter": "datum.p == 'c'"}], "mark": {"type": "text", "font": "Liberation Serif", "fontWeight": "bold", "fontSize": 19, "align": "left", "baseline": "alphabetic", "color": "#000"}, "encoding": {"x": {"datum": -0.455, "type": "quantitative", "axis": null}, "y": {"datum": 0.454, "type": "quantitative", "axis": null}, "text": {"field": "lab", "type": "nominal"}}},
{"data": {"name": "panels"}, "transform": [{"filter": "datum.p == 'c'"}], "mark": {"type": "text", "fontSize": 19, "align": "left", "baseline": "alphabetic", "color": "#000"}, "encoding": {"x": {"datum": 0.273, "type": "quantitative", "axis": null}, "y": {"datum": 0.454, "type": "quantitative", "axis": null}, "text": {"field": "name", "type": "nominal"}}},
{"data": {"values": [{}]}, "mark": {"type": "rule", "color": "#b0b0b0", "strokeWidth": 0.8}, "encoding": {"x": {"datum": 1, "type": "quantitative", "axis": null}}},
{"data": {"values": [{}]}, "mark": {"type": "rule", "color": "#8a8a8a", "strokeWidth": 1}, "encoding": {"y": {"datum": 0, "type": "quantitative", "axis": {"orient": "right", "values": [-0.3, -0.2, -0.1, 0, 0.1, 0.2, 0.3], "labels": false, "tickSize": -3, "title": null}}}},
{"data": {"name": "band"}, "transform": [{"filter": "datum.p == 'c' && datum.t == 'm'"}], "mark": {"type": "line", "interpolate": "monotone", "clip": true, "strokeWidth": 1.9, "color": "#dcc52e"}, "encoding": {"x": {"field": "u", "type": "quantitative", "axis": null}, "y": {"field": "E", "type": "quantitative", "axis": null}, "detail": {"field": "b", "type": "nominal"}}},
{"data": {"name": "band"}, "transform": [{"filter": "datum.p == 'c' && datum.t == 'v'"}], "mark": {"type": "line", "interpolate": "monotone", "clip": true, "strokeWidth": 2.6},
 "encoding": {"x": {"field": "u", "type": "quantitative", "axis": {"values": [0, 1, 2], "labelExpr": "datum.value == 1 ? 'Γ' : 'M'", "tickSize": 0, "labelPadding": 3, "labelFontSize": 11.5, "labelColor": "#222", "labelFlush": false, "title": null}},
 "y": {"field": "E", "type": "quantitative", "axis": {"orient": "left", "values": [-0.3, -0.2, -0.1, 0, 0.1, 0.2, 0.3], "labelExpr": "datum.value == 0 ? '0.' : (datum.value < 0 ? '- ' + format(-datum.value, '.1f') : format(datum.value, '.1f'))", "tickSize": 2.5, "labelPadding": 0.5, "labelFontSize": 9, "labelColor": "#333", "title": "Energy (eV)", "titleFontSize": 13.5, "titlePadding": 3, "titleColor": "#111"}},
 "color": {"field": "el", "type": "nominal", "scale": {"domain": ["Bi", "Te", "Se"], "range": ["#e33fd3", "#e5cb2b", "#e5cb2b"]}, "legend": null}, "detail": {"field": "b", "type": "nominal"}}},
{"data": {"name": "band"}, "transform": [{"filter": "datum.p == 'c' && datum.t == 'c'"}], "mark": {"type": "line", "interpolate": "monotone", "clip": true, "strokeWidth": 0.7}, "encoding": {"x": {"field": "u", "type": "quantitative", "axis": null}, "y": {"field": "E", "type": "quantitative", "axis": null}, "color": {"field": "el", "type": "nominal", "legend": null}, "detail": {"field": "b", "type": "nominal"}}},
{"data": {"name": "band"}, "transform": [{"filter": "datum.p == 'c' && datum.t == 'c'"}], "mark": {"type": "line", "interpolate": "monotone", "clip": true, "strokeWidth": 2.6, "strokeDash": [0.01, 3.4], "strokeCap": "round"}, "encoding": {"x": {"field": "u", "type": "quantitative", "axis": null}, "y": {"field": "E", "type": "quantitative", "axis": null}, "color": {"field": "el", "type": "nominal", "legend": null}, "detail": {"field": "b", "type": "nominal"}}}
],
"resolve": {"axis": {"y": "independent"}}},
{"width": 61, "height": 120, "view": {"stroke": "#999"},
"layer": [
{"data": {"name": "wcc"}, "transform": [{"filter": "datum.p == 'c'"}, {"fold": ["w0", "w1", "w2", "w3"], "as": ["key", "w"]}, {"lookup": "key", "from": {"data": {"name": "kgrid"}, "key": "key", "fields": ["k"]}}],
 "mark": {"type": "line", "interpolate": "monotone", "clip": true, "strokeWidth": 1.2, "color": "#2e9c97", "opacity": 0.85},
 "encoding": {"x": {"field": "k", "type": "quantitative", "scale": {"domain": [0, 1], "nice": false, "zero": false}, "axis": {"values": [0, 1], "labelExpr": "datum.value == 0 ? '0' : 'π'", "tickSize": 0, "labelPadding": 1.5, "labelFontSize": 6.5, "labelColor": "#444", "labelFlush": false, "title": "k", "titleFontStyle": "italic", "titleFontSize": 10, "titlePadding": 3, "titleColor": "#222"}},
 "y": {"field": "w", "type": "quantitative", "scale": {"domain": [0, 1], "nice": false, "zero": false}, "axis": {"orient": "left", "values": [0, 0.5, 1], "labelExpr": "datum.value == 0.5 ? '0.5' : (datum.value == 1 ? '1' : '0')", "tickSize": 0, "labelPadding": 1, "labelFontSize": 6.5, "labelColor": "#444", "title": "WCC", "titleFontSize": 9.5, "titlePadding": -5, "titleColor": "#222"}},
 "detail": {"field": "l", "type": "nominal"}}},
{"data": {"values": [{}]}, "mark": {"type": "rule", "strokeOpacity": 0}, "encoding": {"y": {"datum": 0.5, "type": "quantitative", "axis": {"orient": "right", "values": [0, 0.5, 1], "labelExpr": "datum.value == 0.5 ? '0.5' : (datum.value == 1 ? '1' : '0')", "tickSize": 0, "labelPadding": 1, "labelFontSize": 6.5, "labelColor": "#444", "title": null}}}}
],
"resolve": {"axis": {"y": "independent"}}}
], "spacing": 22, "bounds": "flush"}
], "spacing": 10, "bounds": "full"},
{"hconcat": [
{"hconcat": [
{"width": 132, "height": 119, "view": {"stroke": "#555"},
"layer": [
{"data": {"name": "panels"}, "transform": [{"filter": "datum.p == 'd'"}], "mark": {"type": "rect", "filled": false, "strokeWidth": 2.7, "cornerRadius": 9, "clip": false},
 "encoding": {"x": {"datum": -0.583, "type": "quantitative", "scale": {"domain": [0, 2], "nice": false, "zero": false}, "axis": null}, "x2": {"datum": 3.462}, "y": {"datum": 0.6045, "type": "quantitative", "scale": {"domain": [-0.325, 0.328], "nice": false, "zero": false}, "axis": null}, "y2": {"datum": -0.462}, "stroke": {"field": "stack", "type": "nominal", "scale": {"domain": ["AA", "AB", "AC"], "range": ["#a462f4", "#74e8b4", "#f6a54c"]}, "legend": null}}},
{"data": {"name": "panels"}, "transform": [{"filter": "datum.p == 'd'"}], "mark": {"type": "text", "font": "Liberation Serif", "fontWeight": "bold", "fontSize": 19, "align": "left", "baseline": "alphabetic", "color": "#000"}, "encoding": {"x": {"datum": -0.424, "type": "quantitative", "axis": null}, "y": {"datum": 0.471, "type": "quantitative", "axis": null}, "text": {"field": "lab", "type": "nominal"}}},
{"data": {"name": "panels"}, "transform": [{"filter": "datum.p == 'd'"}], "mark": {"type": "text", "fontSize": 19, "align": "left", "baseline": "alphabetic", "color": "#000"}, "encoding": {"x": {"datum": 0.303, "type": "quantitative", "axis": null}, "y": {"datum": 0.471, "type": "quantitative", "axis": null}, "text": {"field": "name", "type": "nominal"}}},
{"data": {"values": [{}]}, "mark": {"type": "rule", "color": "#b0b0b0", "strokeWidth": 0.8}, "encoding": {"x": {"datum": 1, "type": "quantitative", "axis": null}}},
{"data": {"values": [{}]}, "mark": {"type": "rule", "color": "#8a8a8a", "strokeWidth": 1}, "encoding": {"y": {"datum": 0, "type": "quantitative", "axis": {"orient": "right", "values": [-0.3, -0.2, -0.1, 0, 0.1, 0.2, 0.3], "labels": false, "tickSize": -3, "title": null}}}},
{"data": {"name": "band"}, "transform": [{"filter": "datum.p == 'd' && datum.t == 'v'"}], "mark": {"type": "line", "interpolate": "monotone", "clip": true, "strokeWidth": 2.6},
 "encoding": {"x": {"field": "u", "type": "quantitative", "axis": {"values": [0, 1, 2], "labelExpr": "datum.value == 1 ? 'Γ' : 'M'", "tickSize": 0, "labelPadding": 3, "labelFontSize": 11.5, "labelColor": "#222", "labelFlush": false, "title": null}},
 "y": {"field": "E", "type": "quantitative", "axis": {"orient": "left", "values": [-0.3, -0.2, -0.1, 0, 0.1, 0.2, 0.3], "labelExpr": "datum.value == 0 ? '0.' : (datum.value < 0 ? '- ' + format(-datum.value, '.1f') : format(datum.value, '.1f'))", "tickSize": 2.5, "labelPadding": 0.5, "labelFontSize": 9, "labelColor": "#333", "title": "Energy (eV)", "titleFontSize": 13.5, "titlePadding": 3, "titleColor": "#111"}},
 "color": {"field": "el", "type": "nominal", "scale": {"domain": ["Bi", "Te", "Se"], "range": ["#e33fd3", "#e5cb2b", "#e5cb2b"]}, "legend": null}, "detail": {"field": "b", "type": "nominal"}}},
{"data": {"name": "band"}, "transform": [{"filter": "datum.p == 'd' && datum.t == 'c'"}], "mark": {"type": "line", "interpolate": "monotone", "clip": true, "strokeWidth": 0.7}, "encoding": {"x": {"field": "u", "type": "quantitative", "axis": null}, "y": {"field": "E", "type": "quantitative", "axis": null}, "color": {"field": "el", "type": "nominal", "legend": null}, "detail": {"field": "b", "type": "nominal"}}},
{"data": {"name": "band"}, "transform": [{"filter": "datum.p == 'd' && datum.t == 'c'"}], "mark": {"type": "line", "interpolate": "monotone", "clip": true, "strokeWidth": 2.6, "strokeDash": [0.01, 3.4], "strokeCap": "round"}, "encoding": {"x": {"field": "u", "type": "quantitative", "axis": null}, "y": {"field": "E", "type": "quantitative", "axis": null}, "color": {"field": "el", "type": "nominal", "legend": null}, "detail": {"field": "b", "type": "nominal"}}},
{"data": {"name": "leg"}, "transform": [{"filter": "datum.p == 'd' && datum.el == 'Bi'"}], "mark": {"type": "point", "filled": true, "size": 60, "opacity": 1}, "encoding": {"x": {"datum": 0.212, "type": "quantitative", "axis": null}, "y": {"datum": 0.229, "type": "quantitative", "axis": null}, "color": {"field": "el", "type": "nominal", "legend": null}}},
{"data": {"name": "leg"}, "transform": [{"filter": "datum.p == 'd' && datum.el != 'Bi'"}], "mark": {"type": "point", "filled": true, "size": 60, "opacity": 1}, "encoding": {"x": {"datum": 0.212, "type": "quantitative", "axis": null}, "y": {"datum": 0.147, "type": "quantitative", "axis": null}, "color": {"field": "el", "type": "nominal", "legend": null}}},
{"data": {"name": "leg"}, "transform": [{"filter": "datum.p == 'd' && datum.el == 'Bi'"}], "mark": {"type": "text", "fontSize": 12.5, "align": "left", "baseline": "middle", "color": "#000"}, "encoding": {"x": {"datum": 0.303, "type": "quantitative", "axis": null}, "y": {"datum": 0.229, "type": "quantitative", "axis": null}, "text": {"field": "el", "type": "nominal"}}},
{"data": {"name": "leg"}, "transform": [{"filter": "datum.p == 'd' && datum.el != 'Bi'"}], "mark": {"type": "text", "fontSize": 12.5, "align": "left", "baseline": "middle", "color": "#000"}, "encoding": {"x": {"datum": 0.303, "type": "quantitative", "axis": null}, "y": {"datum": 0.147, "type": "quantitative", "axis": null}, "text": {"field": "el", "type": "nominal"}}}
],
"resolve": {"axis": {"y": "independent"}}},
{"width": 61, "height": 120, "view": {"stroke": "#999"},
"layer": [
{"data": {"name": "wcc"}, "transform": [{"filter": "datum.p == 'd'"}, {"fold": ["w0", "w1", "w2", "w3"], "as": ["key", "w"]}, {"lookup": "key", "from": {"data": {"name": "kgrid"}, "key": "key", "fields": ["k"]}}],
 "mark": {"type": "line", "interpolate": "monotone", "clip": true, "strokeWidth": 1.2, "color": "#2e9c97", "opacity": 0.85},
 "encoding": {"x": {"field": "k", "type": "quantitative", "scale": {"domain": [0, 1], "nice": false, "zero": false}, "axis": {"values": [0, 1], "labelExpr": "datum.value == 0 ? '0' : 'π'", "tickSize": 0, "labelPadding": 1.5, "labelFontSize": 6.5, "labelColor": "#444", "labelFlush": false, "title": "k", "titleFontStyle": "italic", "titleFontSize": 10, "titlePadding": 3, "titleColor": "#222"}},
 "y": {"field": "w", "type": "quantitative", "scale": {"domain": [0, 1], "nice": false, "zero": false}, "axis": {"orient": "left", "values": [0, 0.5, 1], "labelExpr": "datum.value == 0.5 ? '0.5' : (datum.value == 1 ? '1' : '0')", "tickSize": 0, "labelPadding": 1, "labelFontSize": 6.5, "labelColor": "#444", "title": "WCC", "titleFontSize": 9.5, "titlePadding": -5, "titleColor": "#222"}},
 "detail": {"field": "l", "type": "nominal"}}},
{"data": {"values": [{}]}, "mark": {"type": "rule", "strokeOpacity": 0}, "encoding": {"y": {"datum": 0.5, "type": "quantitative", "axis": {"orient": "right", "values": [0, 0.5, 1], "labelExpr": "datum.value == 0.5 ? '0.5' : (datum.value == 1 ? '1' : '0')", "tickSize": 0, "labelPadding": 1, "labelFontSize": 6.5, "labelColor": "#444", "title": null}}}}
],
"resolve": {"axis": {"y": "independent"}}}
], "spacing": 24, "bounds": "flush"},
{"hconcat": [
{"width": 132, "height": 119, "view": {"stroke": "#555"},
"layer": [
{"data": {"name": "panels"}, "transform": [{"filter": "datum.p == 'e'"}], "mark": {"type": "rect", "filled": false, "strokeWidth": 2.7, "cornerRadius": 9, "clip": false},
 "encoding": {"x": {"datum": -0.583, "type": "quantitative", "scale": {"domain": [0, 2], "nice": false, "zero": false}, "axis": null}, "x2": {"datum": 3.462}, "y": {"datum": 0.6045, "type": "quantitative", "scale": {"domain": [-0.325, 0.328], "nice": false, "zero": false}, "axis": null}, "y2": {"datum": -0.462}, "stroke": {"field": "stack", "type": "nominal", "scale": {"domain": ["AA", "AB", "AC"], "range": ["#a462f4", "#74e8b4", "#f6a54c"]}, "legend": null}}},
{"data": {"name": "panels"}, "transform": [{"filter": "datum.p == 'e'"}], "mark": {"type": "text", "font": "Liberation Serif", "fontWeight": "bold", "fontSize": 19, "align": "left", "baseline": "alphabetic", "color": "#000"}, "encoding": {"x": {"datum": -0.424, "type": "quantitative", "axis": null}, "y": {"datum": 0.471, "type": "quantitative", "axis": null}, "text": {"field": "lab", "type": "nominal"}}},
{"data": {"name": "panels"}, "transform": [{"filter": "datum.p == 'e'"}], "mark": {"type": "text", "fontSize": 19, "align": "left", "baseline": "alphabetic", "color": "#000"}, "encoding": {"x": {"datum": 0.303, "type": "quantitative", "axis": null}, "y": {"datum": 0.471, "type": "quantitative", "axis": null}, "text": {"field": "name", "type": "nominal"}}},
{"data": {"values": [{}]}, "mark": {"type": "rule", "color": "#b0b0b0", "strokeWidth": 0.8}, "encoding": {"x": {"datum": 1, "type": "quantitative", "axis": null}}},
{"data": {"values": [{}]}, "mark": {"type": "rule", "color": "#8a8a8a", "strokeWidth": 1}, "encoding": {"y": {"datum": 0, "type": "quantitative", "axis": {"orient": "right", "values": [-0.3, -0.2, -0.1, 0, 0.1, 0.2, 0.3], "labels": false, "tickSize": -3, "title": null}}}},
{"data": {"name": "band"}, "transform": [{"filter": "datum.p == 'e' && datum.t == 'v'"}], "mark": {"type": "line", "interpolate": "monotone", "clip": true, "strokeWidth": 2.6},
 "encoding": {"x": {"field": "u", "type": "quantitative", "axis": {"values": [0, 1, 2], "labelExpr": "datum.value == 1 ? 'Γ' : 'M'", "tickSize": 0, "labelPadding": 3, "labelFontSize": 11.5, "labelColor": "#222", "labelFlush": false, "title": null}},
 "y": {"field": "E", "type": "quantitative", "axis": {"orient": "left", "values": [-0.3, -0.2, -0.1, 0, 0.1, 0.2, 0.3], "labelExpr": "datum.value == 0 ? '0.' : (datum.value < 0 ? '- ' + format(-datum.value, '.1f') : format(datum.value, '.1f'))", "tickSize": 2.5, "labelPadding": 0.5, "labelFontSize": 9, "labelColor": "#333", "title": "Energy (eV)", "titleFontSize": 13.5, "titlePadding": 3, "titleColor": "#111"}},
 "color": {"field": "el", "type": "nominal", "scale": {"domain": ["Bi", "Te", "Se"], "range": ["#e33fd3", "#e5cb2b", "#e5cb2b"]}, "legend": null}, "detail": {"field": "b", "type": "nominal"}}},
{"data": {"name": "band"}, "transform": [{"filter": "datum.p == 'e' && datum.t == 'c'"}], "mark": {"type": "line", "interpolate": "monotone", "clip": true, "strokeWidth": 0.7}, "encoding": {"x": {"field": "u", "type": "quantitative", "axis": null}, "y": {"field": "E", "type": "quantitative", "axis": null}, "color": {"field": "el", "type": "nominal", "legend": null}, "detail": {"field": "b", "type": "nominal"}}},
{"data": {"name": "band"}, "transform": [{"filter": "datum.p == 'e' && datum.t == 'c'"}], "mark": {"type": "line", "interpolate": "monotone", "clip": true, "strokeWidth": 2.6, "strokeDash": [0.01, 3.4], "strokeCap": "round"}, "encoding": {"x": {"field": "u", "type": "quantitative", "axis": null}, "y": {"field": "E", "type": "quantitative", "axis": null}, "color": {"field": "el", "type": "nominal", "legend": null}, "detail": {"field": "b", "type": "nominal"}}}
],
"resolve": {"axis": {"y": "independent"}}},
{"width": 61, "height": 120, "view": {"stroke": "#999"},
"layer": [
{"data": {"name": "wcc"}, "transform": [{"filter": "datum.p == 'e'"}, {"fold": ["w0", "w1", "w2", "w3"], "as": ["key", "w"]}, {"lookup": "key", "from": {"data": {"name": "kgrid"}, "key": "key", "fields": ["k"]}}],
 "mark": {"type": "line", "interpolate": "monotone", "clip": true, "strokeWidth": 1.2, "color": "#2e9c97", "opacity": 0.85},
 "encoding": {"x": {"field": "k", "type": "quantitative", "scale": {"domain": [0, 1], "nice": false, "zero": false}, "axis": {"values": [0, 1], "labelExpr": "datum.value == 0 ? '0' : 'π'", "tickSize": 0, "labelPadding": 1.5, "labelFontSize": 6.5, "labelColor": "#444", "labelFlush": false, "title": "k", "titleFontStyle": "italic", "titleFontSize": 10, "titlePadding": 3, "titleColor": "#222"}},
 "y": {"field": "w", "type": "quantitative", "scale": {"domain": [0, 1], "nice": false, "zero": false}, "axis": {"orient": "left", "values": [0, 0.5, 1], "labelExpr": "datum.value == 0.5 ? '0.5' : (datum.value == 1 ? '1' : '0')", "tickSize": 0, "labelPadding": 1, "labelFontSize": 6.5, "labelColor": "#444", "title": "WCC", "titleFontSize": 9.5, "titlePadding": -5, "titleColor": "#222"}},
 "detail": {"field": "l", "type": "nominal"}}},
{"data": {"values": [{}]}, "mark": {"type": "rule", "strokeOpacity": 0}, "encoding": {"y": {"datum": 0.5, "type": "quantitative", "axis": {"orient": "right", "values": [0, 0.5, 1], "labelExpr": "datum.value == 0.5 ? '0.5' : (datum.value == 1 ? '1' : '0')", "tickSize": 0, "labelPadding": 1, "labelFontSize": 6.5, "labelColor": "#444", "title": null}}}}
],
"resolve": {"axis": {"y": "independent"}}}
], "spacing": 24, "bounds": "flush"},
{"hconcat": [
{"width": 132, "height": 119, "view": {"stroke": "#555"},
"layer": [
{"data": {"name": "panels"}, "transform": [{"filter": "datum.p == 'f'"}], "mark": {"type": "rect", "filled": false, "strokeWidth": 2.7, "cornerRadius": 9, "clip": false},
 "encoding": {"x": {"datum": -0.583, "type": "quantitative", "scale": {"domain": [0, 2], "nice": false, "zero": false}, "axis": null}, "x2": {"datum": 3.462}, "y": {"datum": 0.6045, "type": "quantitative", "scale": {"domain": [-0.325, 0.328], "nice": false, "zero": false}, "axis": null}, "y2": {"datum": -0.462}, "stroke": {"field": "stack", "type": "nominal", "scale": {"domain": ["AA", "AB", "AC"], "range": ["#a462f4", "#74e8b4", "#f6a54c"]}, "legend": null}}},
{"data": {"name": "panels"}, "transform": [{"filter": "datum.p == 'f'"}], "mark": {"type": "text", "font": "Liberation Serif", "fontWeight": "bold", "fontSize": 19, "align": "left", "baseline": "alphabetic", "color": "#000"}, "encoding": {"x": {"datum": -0.455, "type": "quantitative", "axis": null}, "y": {"datum": 0.471, "type": "quantitative", "axis": null}, "text": {"field": "lab", "type": "nominal"}}},
{"data": {"name": "panels"}, "transform": [{"filter": "datum.p == 'f'"}], "mark": {"type": "text", "fontSize": 19, "align": "left", "baseline": "alphabetic", "color": "#000"}, "encoding": {"x": {"datum": 0.273, "type": "quantitative", "axis": null}, "y": {"datum": 0.471, "type": "quantitative", "axis": null}, "text": {"field": "name", "type": "nominal"}}},
{"data": {"values": [{}]}, "mark": {"type": "rule", "color": "#b0b0b0", "strokeWidth": 0.8}, "encoding": {"x": {"datum": 1, "type": "quantitative", "axis": null}}},
{"data": {"values": [{}]}, "mark": {"type": "rule", "color": "#8a8a8a", "strokeWidth": 1}, "encoding": {"y": {"datum": 0, "type": "quantitative", "axis": {"orient": "right", "values": [-0.3, -0.2, -0.1, 0, 0.1, 0.2, 0.3], "labels": false, "tickSize": -3, "title": null}}}},
{"data": {"name": "band"}, "transform": [{"filter": "datum.p == 'f' && datum.t == 'v'"}], "mark": {"type": "line", "interpolate": "monotone", "clip": true, "strokeWidth": 2.6},
 "encoding": {"x": {"field": "u", "type": "quantitative", "axis": {"values": [0, 1, 2], "labelExpr": "datum.value == 1 ? 'Γ' : 'M'", "tickSize": 0, "labelPadding": 3, "labelFontSize": 11.5, "labelColor": "#222", "labelFlush": false, "title": null}},
 "y": {"field": "E", "type": "quantitative", "axis": {"orient": "left", "values": [-0.3, -0.2, -0.1, 0, 0.1, 0.2, 0.3], "labelExpr": "datum.value == 0 ? '0.' : (datum.value < 0 ? '- ' + format(-datum.value, '.1f') : format(datum.value, '.1f'))", "tickSize": 2.5, "labelPadding": 0.5, "labelFontSize": 9, "labelColor": "#333", "title": "Energy (eV)", "titleFontSize": 13.5, "titlePadding": 3, "titleColor": "#111"}},
 "color": {"field": "el", "type": "nominal", "scale": {"domain": ["Bi", "Te", "Se"], "range": ["#e33fd3", "#e5cb2b", "#e5cb2b"]}, "legend": null}, "detail": {"field": "b", "type": "nominal"}}},
{"data": {"name": "band"}, "transform": [{"filter": "datum.p == 'f' && datum.t == 'c'"}], "mark": {"type": "line", "interpolate": "monotone", "clip": true, "strokeWidth": 0.7}, "encoding": {"x": {"field": "u", "type": "quantitative", "axis": null}, "y": {"field": "E", "type": "quantitative", "axis": null}, "color": {"field": "el", "type": "nominal", "legend": null}, "detail": {"field": "b", "type": "nominal"}}},
{"data": {"name": "band"}, "transform": [{"filter": "datum.p == 'f' && datum.t == 'c'"}], "mark": {"type": "line", "interpolate": "monotone", "clip": true, "strokeWidth": 2.6, "strokeDash": [0.01, 3.4], "strokeCap": "round"}, "encoding": {"x": {"field": "u", "type": "quantitative", "axis": null}, "y": {"field": "E", "type": "quantitative", "axis": null}, "color": {"field": "el", "type": "nominal", "legend": null}, "detail": {"field": "b", "type": "nominal"}}}
],
"resolve": {"axis": {"y": "independent"}}},
{"width": 61, "height": 120, "view": {"stroke": "#999"},
"layer": [
{"data": {"name": "wcc"}, "transform": [{"filter": "datum.p == 'f'"}, {"fold": ["w0", "w1", "w2", "w3"], "as": ["key", "w"]}, {"lookup": "key", "from": {"data": {"name": "kgrid"}, "key": "key", "fields": ["k"]}}],
 "mark": {"type": "line", "interpolate": "monotone", "clip": true, "strokeWidth": 1.2, "color": "#2e9c97", "opacity": 0.85},
 "encoding": {"x": {"field": "k", "type": "quantitative", "scale": {"domain": [0, 1], "nice": false, "zero": false}, "axis": {"values": [0, 1], "labelExpr": "datum.value == 0 ? '0' : 'π'", "tickSize": 0, "labelPadding": 1.5, "labelFontSize": 6.5, "labelColor": "#444", "labelFlush": false, "title": "k", "titleFontStyle": "italic", "titleFontSize": 10, "titlePadding": 3, "titleColor": "#222"}},
 "y": {"field": "w", "type": "quantitative", "scale": {"domain": [0, 1], "nice": false, "zero": false}, "axis": {"orient": "left", "values": [0, 0.5, 1], "labelExpr": "datum.value == 0.5 ? '0.5' : (datum.value == 1 ? '1' : '0')", "tickSize": 0, "labelPadding": 1, "labelFontSize": 6.5, "labelColor": "#444", "title": "WCC", "titleFontSize": 9.5, "titlePadding": -5, "titleColor": "#222"}},
 "detail": {"field": "l", "type": "nominal"}}},
{"data": {"values": [{}]}, "mark": {"type": "rule", "strokeOpacity": 0}, "encoding": {"y": {"datum": 0.5, "type": "quantitative", "axis": {"orient": "right", "values": [0, 0.5, 1], "labelExpr": "datum.value == 0.5 ? '0.5' : (datum.value == 1 ? '1' : '0')", "tickSize": 0, "labelPadding": 1, "labelFontSize": 6.5, "labelColor": "#444", "title": null}}}}
],
"resolve": {"axis": {"y": "independent"}}}
], "spacing": 22, "bounds": "flush"}
], "spacing": 10, "bounds": "full"}
]
}
